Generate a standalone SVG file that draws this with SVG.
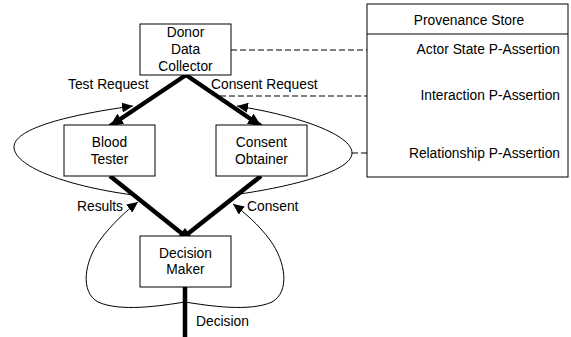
<svg xmlns="http://www.w3.org/2000/svg" width="571" height="337" viewBox="0 0 571 337">
<style>
text{font-family:"Liberation Sans",Arial,sans-serif;font-size:13.8px;fill:#000}
.c{text-anchor:middle}
.box{fill:#fff;stroke:#000;stroke-width:1}
.thick{stroke:#000;stroke-width:4.5;fill:none}
.thin{stroke:#000;stroke-width:1;fill:none}
.dash{stroke:#000;stroke-width:1;fill:none;stroke-dasharray:6,3}
</style>
<defs>
<marker id="big" markerUnits="userSpaceOnUse" markerWidth="14" markerHeight="12" refX="13" refY="6" orient="auto">
<path d="M0,0 L13,6 L0,12 Z" fill="#000"/>
</marker>
<marker id="small" markerUnits="userSpaceOnUse" markerWidth="12" markerHeight="10" refX="11" refY="5" orient="auto">
<path d="M0,0 L11,5 L0,10 Z" fill="#000"/>
</marker>
</defs>
<g id="connectors">
<path class="thick" d="M186,75 L110,126" marker-end="url(#big)"/>
<path class="thick" d="M186,75 L261,126" marker-end="url(#big)"/>
<path class="thick" d="M110,176 L185,236"/>
<path class="thick" d="M261,176 L185,236"/>
<path d="M179,236 L185,228 L191,236 Z" fill="#000"/>
<path class="thick" d="M185,287 L185,337"/>
<path class="thin" d="M133,195 C60,185 14,165 14,147 C14,130 60,116 133,106" marker-end="url(#small)"/>
<path class="thin" d="M240,194 C300,185 352,170 352,153 C352,135 300,116 237,106" marker-end="url(#small)"/>
<path class="thin" d="M185,302 C160,306 120,312 98,302 C80,292 84,262 100,240 C112,224 126,211 138,202" marker-end="url(#small)"/>
<path class="thin" d="M185,302 C210,306 250,312 272,302 C290,292 286,262 270,240 C258,224 245,213 233,204" marker-end="url(#small)"/>
<path class="dash" d="M231,50 L415,50"/>
<path class="dash" d="M220,96 L418,96"/>
<path class="dash" d="M352,153 L404,153"/>
<text x="68" y="89">Test Request</text>
<text x="211" y="89">Consent Request</text>
<text x="77" y="211">Results</text>
<text x="247" y="211">Consent</text>
<text x="196" y="326">Decision</text>
</g>
<g id="donor">
<rect class="box" x="140" y="24" width="91" height="51"/>
<text class="c" x="185.5" y="37">Donor</text>
<text class="c" x="185.5" y="54">Data</text>
<text class="c" x="185.5" y="71">Collector</text>
</g>
<g id="blood">
<rect class="box" x="64" y="125" width="91" height="51"/>
<text class="c" x="109.5" y="147">Blood</text>
<text class="c" x="109.5" y="164">Tester</text>
</g>
<g id="consent">
<rect class="box" x="216" y="125" width="91" height="51"/>
<text class="c" x="261.5" y="147">Consent</text>
<text class="c" x="261.5" y="164">Obtainer</text>
</g>
<g id="decision">
<rect class="box" x="140" y="236" width="91" height="51"/>
<text class="c" x="185.5" y="258">Decision</text>
<text class="c" x="185.5" y="274">Maker</text>
</g>
<g id="store">
<rect class="box" x="367" y="4" width="201" height="173"/>
<line x1="367" y1="34" x2="568" y2="34" stroke="#000" stroke-width="1"/>
<text class="c" x="469" y="25">Provenance Store</text>
<text x="560" y="54" text-anchor="end">Actor State P-Assertion</text>
<text x="560" y="100" text-anchor="end">Interaction P-Assertion</text>
<text x="560" y="158" text-anchor="end">Relationship P-Assertion</text>
</g>
</svg>
